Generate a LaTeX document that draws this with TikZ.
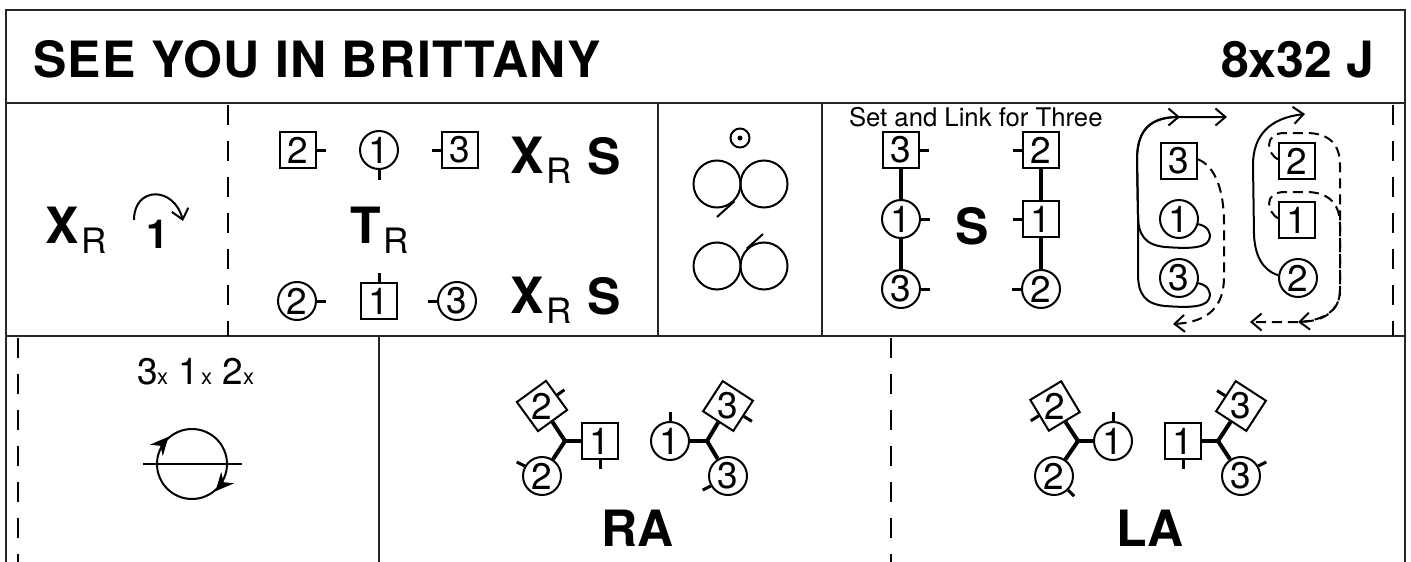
\documentclass[tikz,border=0pt]{standalone}
\usepackage{fontspec}
\setmainfont{TeX Gyre Heros}
\usetikzlibrary{arrows.meta}
\newcommand{\bigb}{\fontsize{50}{50}\bfseries\selectfont}
\newcommand{\subr}{\fontsize{35}{35}\mdseries\selectfont}
\newcommand{\numf}{\fontsize{37}{37}\mdseries\selectfont}
\newcommand{\smlx}{\fontsize{22}{22}\selectfont}
\newcommand{\withr}[1]{{\bigb #1}\hspace{3pt}\raisebox{-10pt}{\subr R}}
\begin{document}
\begin{tikzpicture}[x=1pt,y=-1pt,line width=2pt,
        >={Straight Barb[length=10pt,width=17pt]},
        sqr/.style={draw,fill=white,minimum size=36pt,inner sep=0pt,font=\numf},
        cir/.style={draw,fill=white,circle,minimum size=38pt,inner sep=0pt,font=\numf},
        txt/.style={inner sep=0pt,anchor=base west},
        brd/.style={line width=2.5pt,black!85},
        gap/.style={dash pattern=on 20pt off 16pt},
        tck/.style={line width=3pt},
        lnk/.style={line width=4pt},
        dsh/.style={dash pattern=on 10pt off 6pt},
        rng/.style={-{Stealth[length=18pt,width=17pt,inset=6pt]}}]
        \useasboundingbox (0,0) rectangle (1411,562);
        \draw[brd] (6,562) -- (6,10) -- (1405,10) -- (1405,562);
        \draw[brd] (6,103) -- (1405,103);
        \draw[brd] (6,336) -- (1405,336);
        \draw[brd] (658,103) -- (658,336);
        \draw[brd] (822,103) -- (822,336);
        \draw[brd] (379,336) -- (379,562);
        \draw[gap] (228,105) -- (228,336);
        \draw[gap] (1393,105) -- (1393,336);
        \draw[gap] (18,338) -- (18,562);
        \draw[gap] (891,338) -- (891,562);

        \node[txt,font=\bigb\addfontfeatures{LetterSpace=2.9}] at (32,77) (title) {SEE YOU IN BRITTANY};
        \node[txt,font=\bigb] at (1220,77) (tempo) {8x32 J};

        \node[txt] at (44,243) (cross) {\withr{X}};
        \node[txt,font=\fontsize{40}{40}\bfseries\selectfont] at (145,248) (one) {1};
        \coordinate (turna) at (134,220);
        \coordinate (turnb) at (183,221);
        \draw[->] (turna) .. controls (134,186) and (174,186) .. (turnb);

        \node[sqr] at (298,150) (sqb) {2};
        \node[cir] at (379,150) (cia) {1};
        \node[sqr] at (460,150) (sqc) {3};
        \draw[tck] (sqb.east) -- ++(9,0);
        \draw[tck] (cia.south) -- ++(0,10);
        \draw[tck] (sqc.west) -- ++(-9,0);
        \node[txt] at (509,173) (crossa) {\withr{X}};
        \node[txt,font=\bigb] at (586,174) (seta) {S};
        \node[txt] at (349,243) (turn) {\withr{T}};
        \node[cir] at (297,301) (cib) {2};
        \node[sqr] at (379,301) (sqa) {1};
        \node[cir] at (457,301) (cic) {3};
        \draw[tck] (cib.east) -- ++(9,0);
        \draw[tck] (sqa.north) -- ++(0,-9);
        \draw[tck] (cic.west) -- ++(-9,0);
        \node[txt] at (509,313) (crossb) {\withr{X}};
        \node[txt,font=\bigb] at (586,314) (setb) {S};

        \node[draw,circle,minimum size=19pt,inner sep=0pt] at (740,138) (ear) {};
        \node[fill,circle,minimum size=5pt,inner sep=0pt] at (ear) (dot) {};
        \node[draw,circle,minimum size=47pt,inner sep=0pt] at (717,184) (lpa) {};
        \node[draw,circle,minimum size=47pt,inner sep=0pt] at (764,184) (lpb) {};
        \node[draw,circle,minimum size=47pt,inner sep=0pt] at (717,266) (lpc) {};
        \node[draw,circle,minimum size=47pt,inner sep=0pt] at (764,266) (lpd) {};
        \coordinate (taila) at (717,217);
        \coordinate (tailb) at (763,234);
        \draw (lpa.-45) -- (taila);
        \draw (lpd.135) -- (tailb);

        \node[txt,font=\fontsize{25.7}{25.7}\selectfont] at (848,126) (link) {Set and Link for Three};
        \node[sqr] at (901,150) (lka) {3};
        \node[cir] at (901,219) (lkb) {1};
        \node[cir] at (901,289) (lkc) {3};
        \draw[lnk] (lka) -- (lkb);
        \draw[lnk] (lkb) -- (lkc);
        \draw[tck] (lka.east) -- ++(9,0);
        \draw[tck] (lkb.east) -- ++(9,0);
        \draw[tck] (lkc.east) -- ++(9,0);
        \node[txt,font=\bigb] at (954,244) (setc) {S};
        \node[sqr] at (1041,150) (lkd) {2};
        \node[sqr] at (1041,219) (lke) {1};
        \node[cir] at (1041,289) (lkf) {2};
        \draw[lnk] (lkd) -- (lke);
        \draw[lnk] (lke) -- (lkf);
        \draw[tck] (lkd.west) -- ++(-9,0);
        \draw[tck] (lke.west) -- ++(-9,0);
        \draw[tck] (lkf.west) -- ++(-9,0);

        \node[sqr] at (1179,161) (tra) {3};
        \node[cir] at (1179,219) (trb) {1};
        \node[cir] at (1179,278) (trc) {3};
        \node[sqr] at (1297,161) (trd) {2};
        \node[sqr] at (1297,220) (tre) {1};
        \node[cir] at (1298,278) (trf) {2};
        \coordinate (tipa) at (1180,117);
        \coordinate (tipb) at (1227,117);
        \coordinate (tipc) at (1305,114);
        \coordinate (tipd) at (1173,324);
        \coordinate (tipe) at (1298,322);
        \coordinate (tipf) at (1250,322);
        \draw[->] (trb.-15) .. controls (1207,226) and (1212,232) .. (1209,240)
                .. controls (1205,250) and (1180,248) .. (1165,247)
                .. controls (1145,245) and (1138,235) .. (1138,215)
                -- (1137,160) .. controls (1137,130) and (1150,117) .. (tipa);
        \draw[->] (trc.-15) .. controls (1207,285) and (1212,291) .. (1209,299)
                .. controls (1205,309) and (1180,307) .. (1165,306)
                .. controls (1145,304) and (1138,294) .. (1138,274)
                -- (1138,215) -- (1137,160) .. controls (1137,130) and (1150,117) .. (tipa) -- (tipb);
        \draw[->] (trf.172) .. controls (1262,270) and (1255,255) .. (1254,235)
                -- (1253,165) .. controls (1253,135) and (1270,118) .. (tipc);
        \draw[dsh,->] (tra.5) .. controls (1215,166) and (1224,190) .. (1224,223)
                -- (1224,277) .. controls (1224,305) and (1210,322) .. (tipd);
        \draw[dsh,->] (trd.175) .. controls (1268,155) and (1262,133) .. (1285,133)
                -- (1306,133) .. controls (1330,133) and (1340,145) .. (1340,165)
                -- (1340,290) .. controls (1340,310) and (1325,320) .. (tipe);
        \draw[dsh,->] (tre.175) .. controls (1268,213) and (1262,192) .. (1285,192)
                -- (1306,192) .. controls (1330,192) and (1340,205) .. (1340,225)
                -- (1340,290) .. controls (1340,310) and (1325,322) .. (1298,322) -- (tipf);

        \node[txt,font=\numf] at (136,384) (ordc) {3};
        \node[txt,font=\smlx] at (156,384) (xa) {x};
        \node[txt,font=\numf] at (177,384) (orda) {1};
        \node[txt,font=\smlx] at (200,384) (xb) {x};
        \node[txt,font=\numf] at (221,384) (ordb) {2};
        \node[txt,font=\smlx] at (242,384) (xc) {x};
        \node[draw,circle,minimum size=70pt,inner sep=0pt] at (192,464) (ring) {};
        \coordinate (ringl) at (143,464);
        \coordinate (ringr) at (242,464);
        \draw (ringl) -- (ringr);
        \draw[rng] (ring.146) -- (ring.131);
        \draw[rng] (ring.-34) -- (ring.-49);

        \coordinate (hba) at (565,441);
        \node[rotate=36,sqr] at (542,406) (rda) {\rotatebox{-36}{2}};
        \node[sqr] at (600,441) (rsa) {1};
        \node[cir] at (542,476) (rca) {2};
        \draw[lnk] (hba) -- (rda);
        \draw[lnk] (hba) -- (rsa);
        \draw[lnk] (hba) -- (rca);
        \draw[tck] (rda.east) -- ++(7,-5);
        \draw[tck] (rsa.south) -- ++(0,9);
        \draw[tck] (rca.150) -- ++(-8,-4);
        \coordinate (hbb) at (707,441);
        \node[cir] at (670,441) (rcb) {1};
        \node[rotate=-33,sqr] at (728,406) (rdb) {\rotatebox{33}{3}};
        \node[cir] at (728,476) (rcc) {3};
        \draw[lnk] (hbb) -- (rcb);
        \draw[lnk] (hbb) -- (rdb);
        \draw[lnk] (hbb) -- (rcc);
        \draw[tck] (rcb.north) -- ++(0,-9);
        \draw[tck] (rdb.east) -- ++(8,5);
        \draw[tck] (rcc.210) -- ++(-8,4);
        \node[txt,font=\bigb] at (600,546) (ra) {RA};

        \coordinate (hbc) at (1078,441);
        \node[rotate=31,sqr] at (1055,406) (lda) {\rotatebox{-31}{2}};
        \node[cir] at (1113,441) (lca) {1};
        \node[cir] at (1054,476) (lcb) {2};
        \draw[lnk] (hbc) -- (lda);
        \draw[lnk] (hbc) -- (lca);
        \draw[lnk] (hbc) -- (lcb);
        \draw[tck] (lda.west) -- ++(-8,5);
        \draw[tck] (lca.north) -- ++(0,-9);
        \draw[tck] (lcb.-45) -- ++(6,6);
        \coordinate (hbd) at (1218,441);
        \node[sqr] at (1183,441) (lsa) {1};
        \node[rotate=-33,sqr] at (1241,406) (ldb) {\rotatebox{33}{3}};
        \node[cir] at (1241,476) (lcc) {3};
        \draw[lnk] (hbd) -- (lsa);
        \draw[lnk] (hbd) -- (ldb);
        \draw[lnk] (hbd) -- (lcc);
        \draw[tck] (lsa.south) -- ++(0,9);
        \draw[tck] (ldb.west) -- ++(-8,-5);
        \draw[tck] (lcc.30) -- ++(8,-4);
        \node[txt,font=\bigb] at (1115,546) (la) {LA};
\end{tikzpicture}
\end{document}
